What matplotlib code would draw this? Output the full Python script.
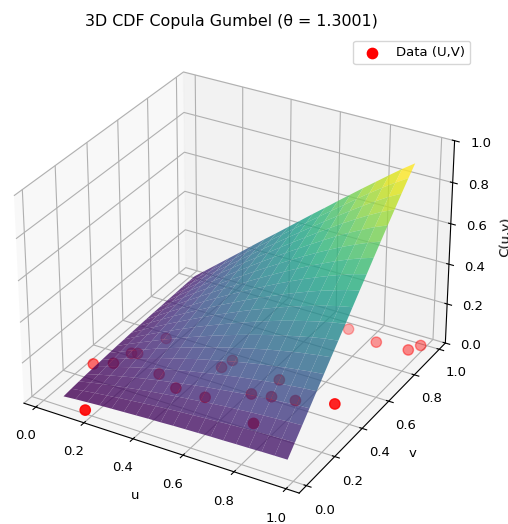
import numpy as np
from matplotlib import pyplot as plt

plt.rcParams['font.size'] = 9.55

GRID = [0.05, 0.10, 0.15, 0.20, 0.25, 0.30, 0.35, 0.40, 0.45, 0.50,
        0.55, 0.60, 0.65, 0.70, 0.75, 0.80, 0.85, 0.90, 0.95]
# upper triangle of C(u,v), the surface is symmetric in u and v
C_ROWS = [
    [.006, .011, .015, .019, .022, .025, .028, .031, .033, .036, .038, .040, .042, .043, .045, .046, .048, .049, .050],
    [.020, .028, .035, .042, .048, .054, .060, .065, .070, .074, .078, .082, .086, .089, .092, .095, .097, .099],
    [.040, .050, .060, .070, .079, .087, .095, .102, .109, .116, .122, .127, .133, .137, .141, .145, .148],
    [.064, .078, .090, .102, .113, .124, .134, .144, .152, .161, .169, .176, .182, .188, .193, .197],
    [.094, .110, .125, .139, .152, .165, .177, .188, .199, .209, .218, .227, .234, .241, .246],
    [.129, .146, .163, .180, .195, .210, .224, .237, .249, .260, .271, .280, .289, .296],
    [.167, .187, .206, .224, .242, .258, .274, .289, .302, .315, .326, .336, .345],
    [.210, .232, .253, .273, .292, .310, .327, .343, .358, .372, .384, .393],
    [.256, .280, .303, .325, .346, .366, .384, .401, .417, .431, .442],
    [.307, .333, .357, .381, .403, .424, .444, .462, .478, .491],
    [.361, .388, .415, .440, .464, .486, .506, .525, .540],
    [.419, .448, .476, .502, .527, .550, .571, .588],
    [.480, .511, .540, .568, .594, .617, .637],
    [.545, .577, .608, .636, .662, .685],
    [.613, .647, .678, .708, .733],
    [.684, .719, .752, .780],
    [.758, .795, .827],
    [.835, .873],
    [.916],
]

DATA_U = [0.16, 0.02, 0.08, 0.10, 0.12, 0.155, 0.26, 0.36, 0.48, 0.43, 0.44,
          0.61, 0.68, 0.65, 0.765, 0.71, 0.895, 0.70, 0.83, 0.955, 0.98]
DATA_V = [0.02, 0.29, 0.33, 0.42, 0.43, 0.57, 0.35, 0.30, 0.30, 0.50, 0.56,
          0.40, 0.42, 0.53, 0.44, 0.24, 0.49, 0.96, 0.93, 0.94, 0.99]
DATA_Z = [0.0] * len(DATA_U)

C = np.zeros((len(GRID), len(GRID)))
for i, row in enumerate(C_ROWS):
    C[i, i:] = row
    C[i:, i] = row

fig = plt.figure(figsize=(5.08, 5.24), dpi=100)
ax = fig.add_axes([-0.026, 0.0, 0.965, 0.935], projection='3d')

U, V = np.meshgrid(GRID, GRID)
ax.plot_surface(U, V, C, cmap='viridis', alpha=0.8,
                rstride=1, cstride=1, edgecolor='none')
ax.scatter(DATA_U, DATA_V, DATA_Z, color='red', s=55, label='Data (U,V)')

ax.set_xlim(-0.05, 1.05)
ax.set_ylim(-0.05, 1.05)
ax.set_zlim(0, 1)
ax.set_xticks([0.0, 0.2, 0.4, 0.6, 0.8, 1.0])
ax.set_yticks([0.0, 0.2, 0.4, 0.6, 0.8, 1.0])
ax.set_xlabel('u')
ax.set_ylabel('v')
ax.set_zlabel('C(u,v)')
ax.set_title('3D CDF Copula Gumbel (θ = 1.3001)')
ax.legend(loc='upper right')

fig.savefig('out.png', dpi=100)
